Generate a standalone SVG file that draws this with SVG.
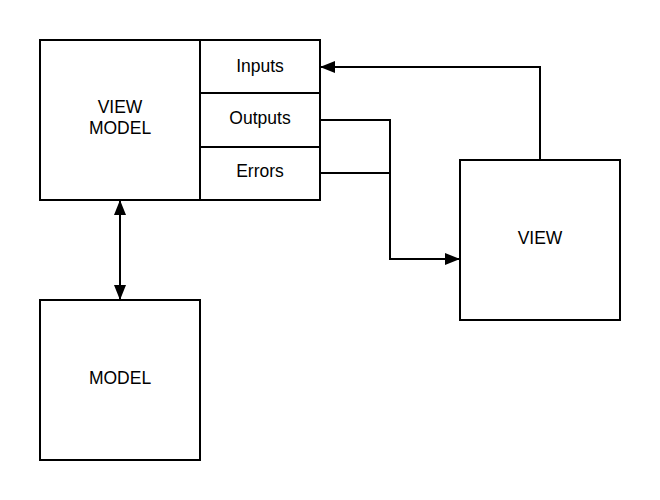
<svg xmlns="http://www.w3.org/2000/svg" width="660" height="500" viewBox="0 0 660 500">
<style>
.box{fill:#fff;stroke:#000;stroke-width:2}
.lbl{font-family:"Liberation Sans",Arial,sans-serif;font-size:17.5px;fill:#000;text-anchor:middle}
.conn{fill:none;stroke:#000;stroke-width:2}
</style>
<defs>
<marker id="ah" viewBox="0 0 10 10" refX="10" refY="5" markerWidth="7.5" markerHeight="6" markerUnits="strokeWidth" orient="auto-start-reverse" preserveAspectRatio="none">
<path d="M0,0 L10,5 L0,10 z" fill="#000"/>
</marker>
</defs>
<rect x="0" y="0" width="660" height="500" fill="#fff"/>
<g id="viewmodel">
<rect class="box" x="40" y="40" width="160" height="160"/>
<text class="lbl" x="120" y="113">VIEW</text>
<text class="lbl" x="120" y="134">MODEL</text>
</g>
<g id="inputs">
<rect class="box" x="200" y="40" width="120" height="53"/>
<text class="lbl" x="260" y="72">Inputs</text>
</g>
<g id="outputs">
<rect class="box" x="200" y="93" width="120" height="54"/>
<text class="lbl" x="260" y="124">Outputs</text>
</g>
<g id="errors">
<rect class="box" x="200" y="147" width="120" height="53"/>
<text class="lbl" x="260" y="177">Errors</text>
</g>
<g id="view">
<rect class="box" x="460" y="160" width="160" height="160"/>
<text class="lbl" x="540" y="244">VIEW</text>
</g>
<g id="model">
<rect class="box" x="40" y="300" width="160" height="160"/>
<text class="lbl" x="120" y="384">MODEL</text>
</g>
<g id="connectors">
<path class="conn" d="M540,160 V67 H320" marker-end="url(#ah)"/>
<path class="conn" d="M320,120 H390 V259 H460" marker-end="url(#ah)"/>
<path class="conn" d="M320,173 H390"/>
<path class="conn" d="M120,200 V300" marker-start="url(#ah)" marker-end="url(#ah)"/>
</g>
</svg>
